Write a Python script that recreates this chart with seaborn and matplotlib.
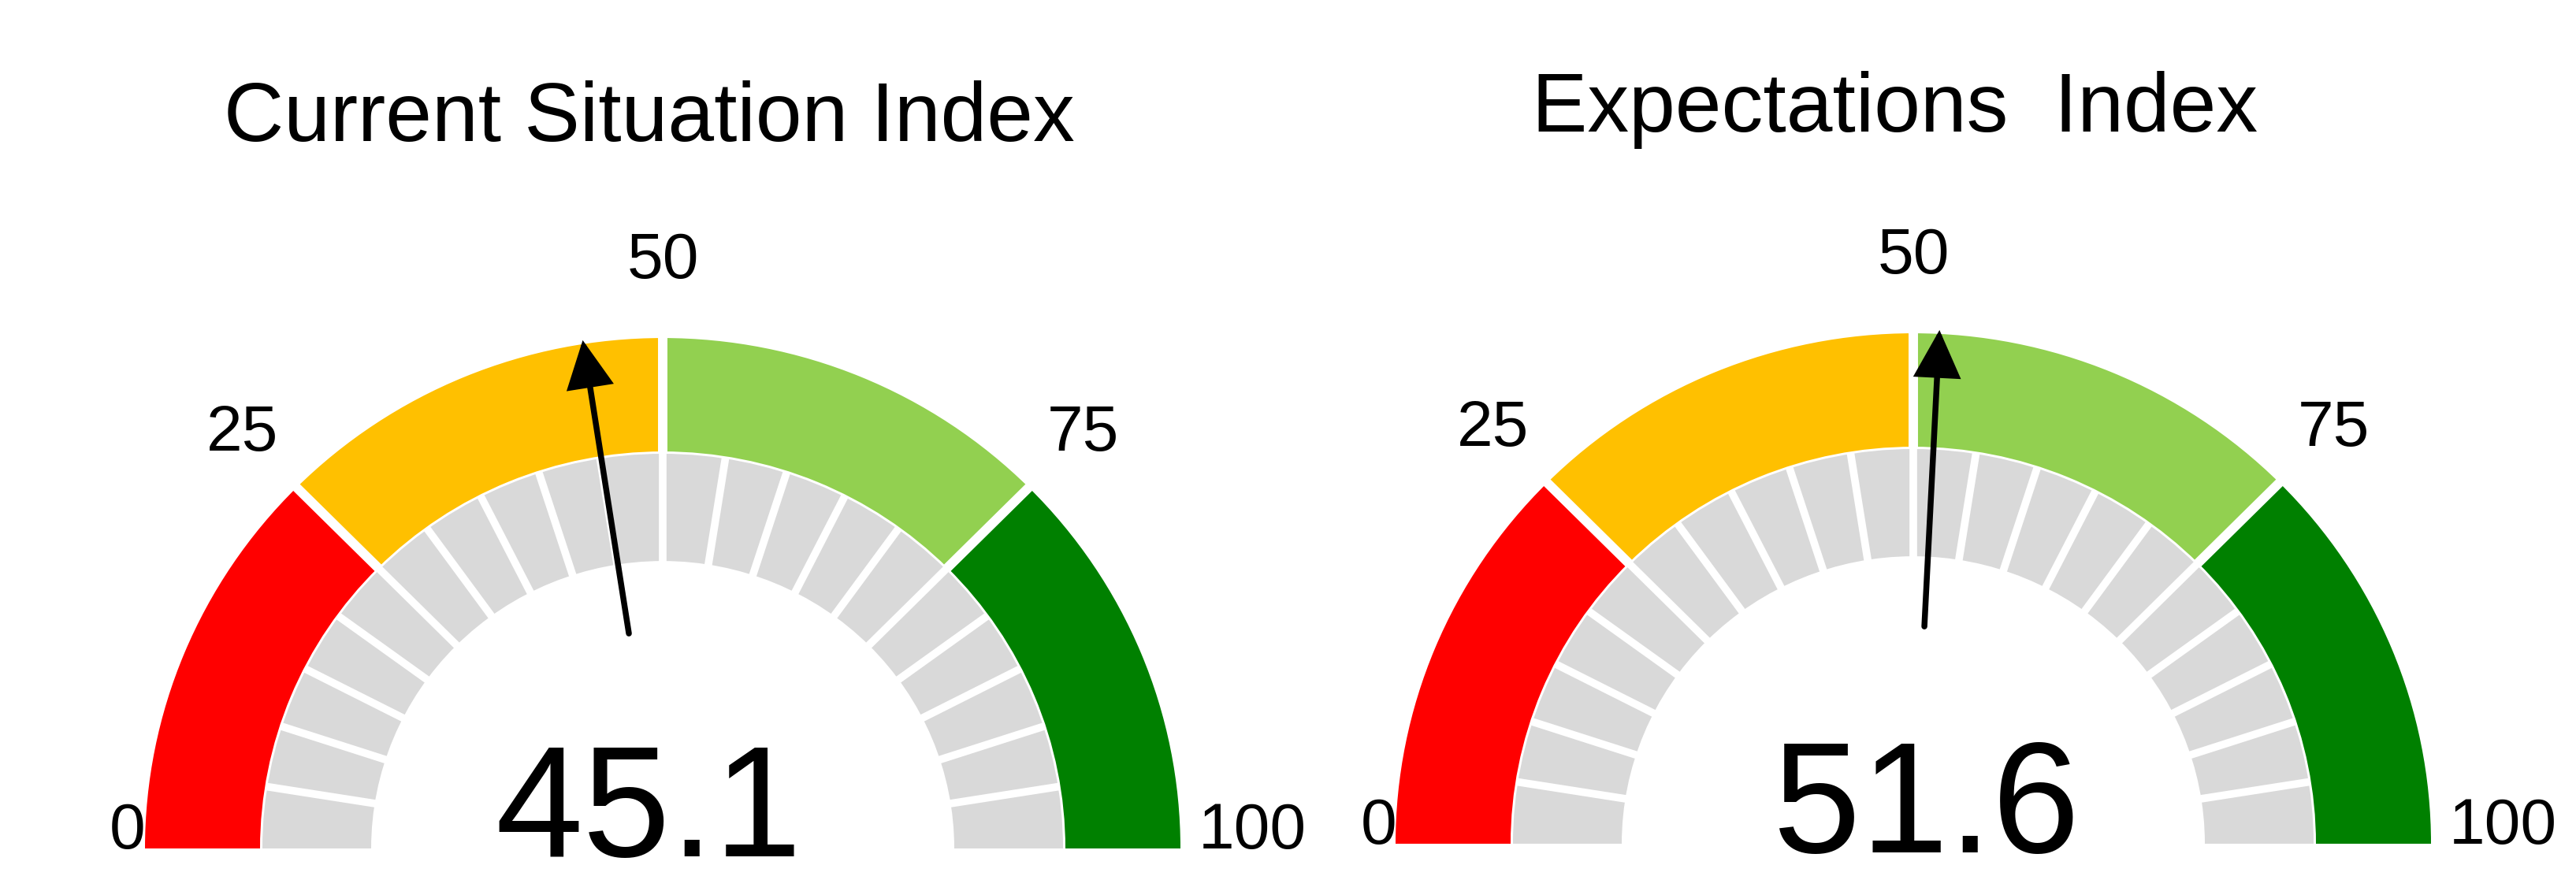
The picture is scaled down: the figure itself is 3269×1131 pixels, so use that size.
import numpy as np
import matplotlib
matplotlib.use("Agg")
import matplotlib.pyplot as plt
from matplotlib.patches import Wedge
import seaborn as sns

# ---------------- data ----------------
titles = ["Current Situation Index", "Expectations  Index"]
values = [45.1, 51.6]
band_edges = [0, 25, 50, 75, 100]
band_colors = ["#FF0000", "#FFC000", "#92D050", "#008000"]
tick_values = [0, 25, 50, 75, 100]
tick_labels = ["0", "25", "50", "75", "100"]
n_gray_segments = 20
gray_color = "#D9D9D9"

# ---------------- layout (pixels) ----------------
W, H = 3269, 1131
KY = 652 / 643                      # slight vertical squash of the gauges
centers_px = [(841, 1077), (2428, 1071)]   # (x, y from top)
title_pos_px = [(824, 179), (2405, 167)]
value_pos_px = [(823, 1087), (2445, 1082)]

R_OUT, R_IN = 657, 511              # coloured ring
G_OUT, G_IN = 508, 370              # grey ring
R_TAIL, R_TIP = 280, 662            # needle
R_LAB = 755                         # tick label radius

sns.set_theme(style="white")
plt.rcParams["font.family"] = ["Liberation Sans", "DejaVu Sans"]
plt.rcParams["text.color"] = "black"

fig = plt.figure(figsize=(W / 100, H / 100), dpi=100)
ax = fig.add_axes([0, 0, 1, 1])
ax.set_xlim(0, W)
ax.set_ylim(0, H * KY)
ax.axis("off")


def D(xp, yp):
    return xp, (H - yp) * KY


def ang(v):
    return 180.0 - 1.8 * v


def polar(c, r, v):
    t = np.radians(ang(v))
    return c[0] + r * np.cos(t), c[1] + r * np.sin(t)


for g in range(len(values)):
    c = D(*centers_px[g])

    # coloured bands
    for i, col in enumerate(band_colors):
        ax.add_patch(Wedge(c, R_OUT, ang(band_edges[i + 1]), ang(band_edges[i]),
                           width=R_OUT - R_IN, facecolor=col, edgecolor="none"))
    for v in band_edges[1:-1]:
        x0, y0 = polar(c, R_IN - 2, v)
        x1, y1 = polar(c, R_OUT + 2, v)
        ax.plot([x0, x1], [y0, y1], color="white", lw=8.6, solid_capstyle="butt")

    # grey scale ring
    ax.add_patch(Wedge(c, G_OUT, 0, 180, width=G_OUT - G_IN,
                       facecolor=gray_color, edgecolor="none"))
    step = 100 / n_gray_segments
    for k in range(1, n_gray_segments):
        v = k * step
        x0, y0 = polar(c, G_IN - 2, v)
        x1, y1 = polar(c, G_OUT + 2, v)
        ax.plot([x0, x1], [y0, y1], color="white", lw=7.0, solid_capstyle="butt")

    # tick labels
    for tv, tl in zip(tick_values, tick_labels):
        if tv == tick_values[0]:
            ax.text(c[0] - 656, c[1], tl, ha="right", va="baseline", fontsize=59,
                    color="black")
        elif tv == tick_values[-1]:
            ax.text(c[0] + 680, c[1], tl, ha="left", va="baseline", fontsize=59,
                    color="black")
        else:
            x, y = polar(c, R_LAB, tv)
            ax.text(x, y, tl, ha="center", va="center", fontsize=59, color="black")

    # needle
    tail = polar(c, R_TAIL, values[g])
    tip = polar(c, R_TIP, values[g])
    ax.annotate("", xy=tip, xytext=tail,
                arrowprops=dict(arrowstyle="-|>,head_length=1.0,head_width=0.5",
                                mutation_scale=35, lw=5.4, color="black",
                                shrinkA=0, shrinkB=0, joinstyle="miter",
                                capstyle="round"))

    # value
    vx, vy = D(*value_pos_px[g])
    ax.text(vx, vy, f"{values[g]:.1f}", ha="center", va="baseline", fontsize=144,
            color="black")

    # title
    tx, ty = D(*title_pos_px[g])
    ax.text(tx, ty, titles[g], ha="center", va="baseline", fontsize=76,
            color="black")

fig.savefig("out.png", dpi=100, facecolor="white")
